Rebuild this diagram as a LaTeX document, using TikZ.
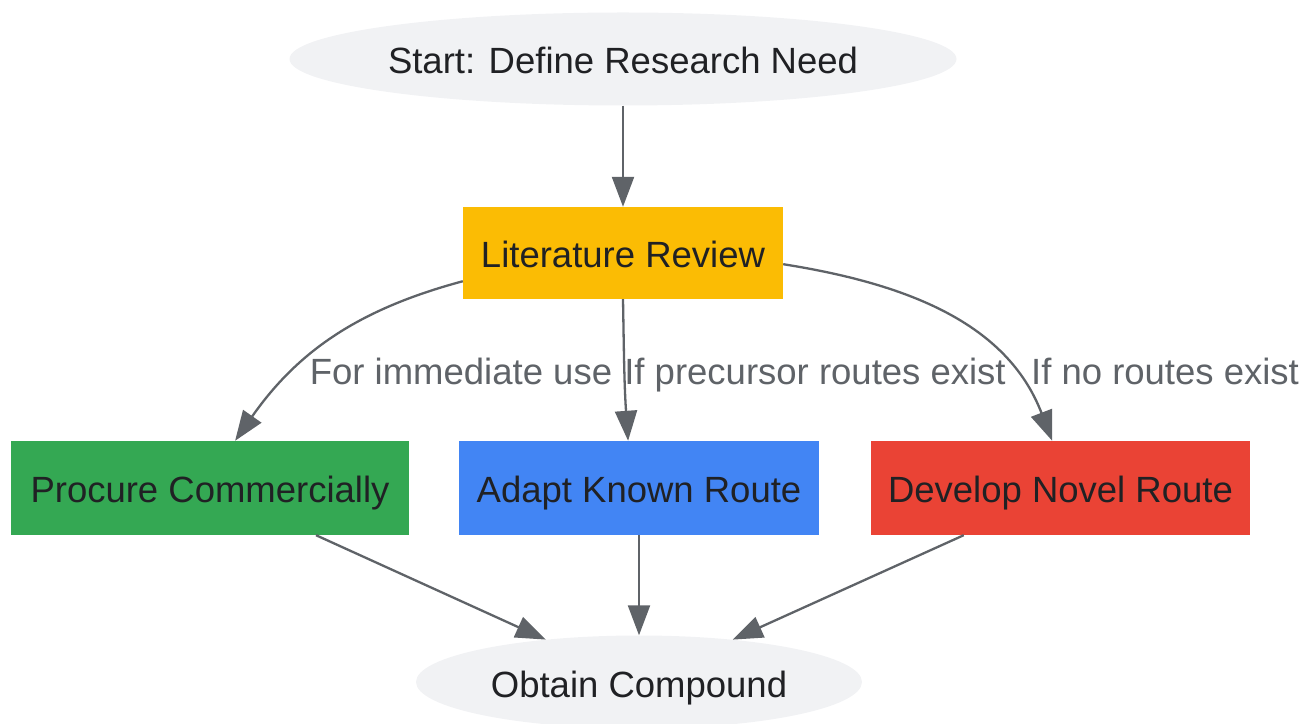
\documentclass[tikz,border=0pt]{standalone}
\usepackage{fontspec}
\setmainfont{Liberation Sans}
\usetikzlibrary{arrows.meta,shapes.geometric}
\definecolor{edgec}{HTML}{5F6368}
\definecolor{txt}{HTML}{202124}
\definecolor{oval}{HTML}{F1F2F4}
\definecolor{gyel}{HTML}{FBBC04}
\definecolor{ggrn}{HTML}{34A853}
\definecolor{gblu}{HTML}{4285F4}
\definecolor{gred}{HTML}{EA4335}
\tikzset{
  base/.style={font=\fontsize{36.5}{42}\selectfont, text=txt, inner sep=0pt, text height=38pt, text depth=8pt},
  ovalnode/.style={base, ellipse, fill=oval, draw=none},
  boxnode/.style={base, rectangle, draw=none, minimum height=94pt},
  conn/.style={draw=edgec, line width=2.3pt, -{Triangle[length=30pt,width=22pt]}},
  elabel/.style={font=\fontsize{36.5}{42}\selectfont, text=edgec, inner sep=0pt, anchor=base}
}
\begin{document}
\begin{tikzpicture}[x=1pt,y=1pt]
\useasboundingbox (0,0) rectangle (1308,723);
\node[ovalnode, minimum width=667pt, minimum height=93pt] (start) at (623,664) {Start: Define Research Need};
\node[boxnode, fill=gyel, minimum width=320pt, minimum height=92pt] (lit) at (623,470) {Literature Review};
\node[boxnode, fill=ggrn, minimum width=398pt] (proc) at (210,235) {Procure Commercially};
\node[boxnode, fill=gblu, minimum width=360pt] (adapt) at (639,235) {Adapt Known Route};
\node[boxnode, fill=gred, minimum width=379pt] (dev) at (1060.5,235) {Develop Novel Route};
\node[ovalnode, minimum width=446pt, minimum height=93pt] (obt) at (639,41) {Obtain Compound};

\draw[conn] (start) -- (lit);
\draw[conn] (lit.190) to[out=195,in=55] (proc.62);
\draw[conn] (lit.south) to[out=-89,in=94] (adapt.103);
\draw[conn] (lit.-4) to[out=-9,in=111] (dev.100);
\draw[conn] (proc.-24) -- (obt);
\draw[conn] (adapt) -- (obt);
\draw[conn] (dev.206) -- (obt);

\node[elabel] (l1) at (461,338) {For immediate use};
\node[elabel] (l2) at (815,338) {If precursor routes exist};
\node[elabel] (l3) at (1165,338) {If no routes exist};
\end{tikzpicture}
\end{document}
